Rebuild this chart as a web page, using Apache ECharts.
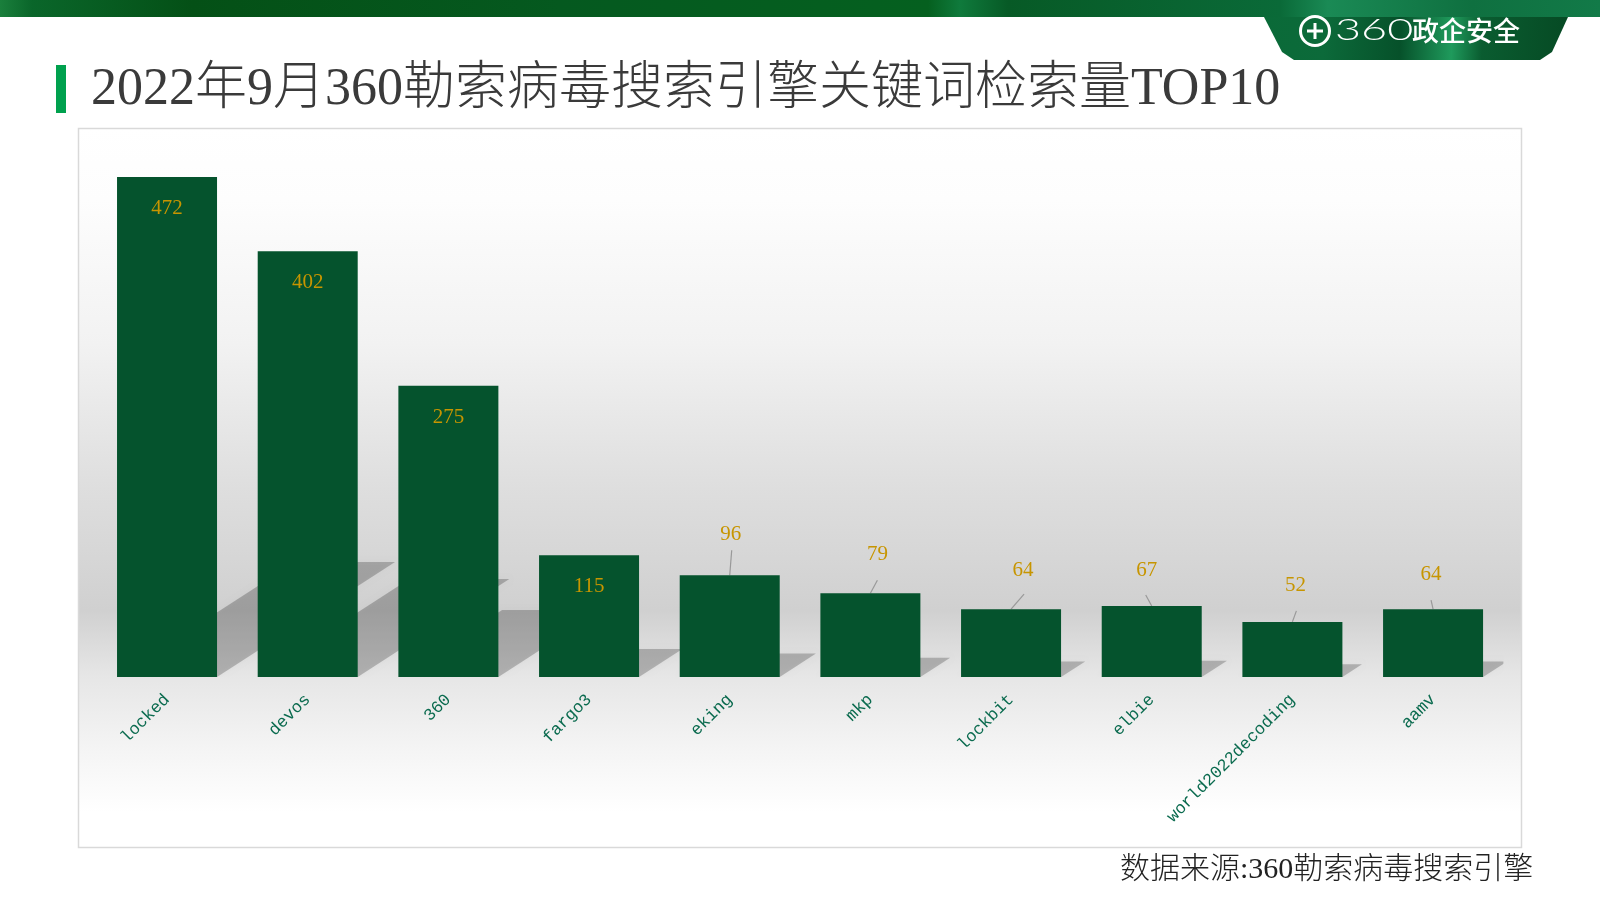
<!DOCTYPE html>
<html><head><meta charset="utf-8">
<style>html,body{margin:0;padding:0;background:#fff}#c{width:1600px;height:900px}</style>
<script src="https://cdn.jsdelivr.net/npm/echarts@6/dist/echarts.min.js"></script>
</head><body><div id="c"></div>
<script>
const categories = ['locked','devos','360','fargo3','eking','mkp','lockbit','elbie','world2022decoding','aamv'];
const values = [472,402,275,115,96,79,64,67,52,64];
const titleText = '2022年9月360勒索病毒搜索引擎关键词检索量TOP10';
const sourceText = '数据来源:360勒索病毒搜索引擎';
const labelOffsets = [[0,0],[0,0],[0,0],[0,0],[1,-25],[7,-23],[12,-23],[-5,-20],[3,-21],[-2,-19]];
const leaderEnds = [null,null,null,null,[2,-25],[7,-13],[13,-15],[-6,-11],[4,-11],[-2,-9]];
const SERIF = '"Liberation Serif","Noto Sans CJK SC",serif';
const chart = echarts.init(document.getElementById('c'));
const grad = (x,y,x2,y2,s)=>({type:'linear',x,y,x2,y2,colorStops:s.map(a=>({offset:a[0],color:a[1]}))});
chart.setOption({
  animation:false,
  backgroundColor:'#fff',
  grid:{left:96.7,top:177,width:1406.7,height:500,containLabel:false},
  xAxis:{type:'category',data:categories,axisLine:{show:false},axisTick:{show:false},
    axisLabel:{interval:0,rotate:45,margin:20,color:'#0b6b4f',fontSize:17,fontFamily:'"Liberation Mono",monospace'}},
  yAxis:{type:'value',min:0,max:472,show:false,splitLine:{show:false}},
  graphic:[
    {type:'rect',z:-10,shape:{x:0,y:0,width:1600,height:17},style:{fill:grad(0,0,1,0,[[0,'#1a7f3c'],[.02,'#0a662a'],[.12,'#045016'],[.35,'#05591f'],[.58,'#05601f'],[.6,'#0f7a3c'],[.63,'#075a26'],[.8,'#0a6a38'],[.83,'#1a8a55'],[.92,'#0f7040'],[1,'#127a48']])}},
    {type:'polygon',z:-9,shape:{points:[[1264,17],[1568,17],[1552,52],[1540,60],[1294,60],[1282,52]]},style:{fill:grad(0,0,1,.3,[[0,'#0a6a38'],[.2,'#0c6a3a'],[.45,'#06512a'],[.62,'#1f9a5c'],[.72,'#0a5c30'],[1,'#064a24']])}},
    {type:'circle',z:-8,shape:{cx:1315,cy:31,r:14.5},style:{fill:'none',stroke:'#fff',lineWidth:3}},
    {type:'rect',z:-8,shape:{x:1307,y:29.5,width:16,height:3},style:{fill:'#fff'}},
    {type:'rect',z:-8,shape:{x:1313.5,y:23,width:3,height:16},style:{fill:'#fff'}},
    {type:'text',z:-8,x:1335,y:31,scaleX:1.55,style:{text:'360',fill:'#fff',font:'300 29px Lato',verticalAlign:'middle',align:'left'}},
    {type:'text',z:-8,x:1412,y:31,style:{text:'政企安全',fill:'#fff',font:'500 27px "Noto Sans CJK SC"',verticalAlign:'middle',align:'left'}},
    {type:'rect',z:-8,shape:{x:56,y:65,width:10,height:48},style:{fill:'#00a14e'}},
    {type:'text',z:-8,x:91,y:90,style:{text:titleText,fill:'#3a3a3a',font:'300 52px '+SERIF,verticalAlign:'middle',align:'left'}},
    {type:'rect',z:-10,shape:{x:78.5,y:128.5,width:1443,height:719},style:{stroke:'#d9d9d9',lineWidth:1.5,fill:grad(0,0,0,1,[[0,'#ffffff'],[.1,'#fdfdfd'],[.3,'#f2f2f2'],[.5,'#dedede'],[.67,'#d0d0d0'],[.76,'#e6e6e6'],[.86,'#f4f4f4'],[.95,'#ffffff'],[1,'#ffffff']])}},
    {type:'text',z:-8,x:1120,y:870,style:{text:sourceText,fill:'#222',font:'300 30px '+SERIF,verticalAlign:'middle',align:'left'}}
  ],
  series:[
    {type:'custom',z:1,clip:true,data:values.map((v,i)=>[i,v]),encode:{x:0,y:1},
      renderItem(params,api){
        const base=api.coord([api.value(0),0]), top=api.coord([api.value(0),api.value(1)]);
        const hw=50, h=(base[1]-top[1])*0.23, sh=h*1.548, g=params.coordSys;
        const pts=[[base[0]-hw,base[1]],[base[0]+hw,base[1]],[base[0]+hw+sh,base[1]-h],[base[0]-hw+sh,base[1]-h]];
        return {type:'polygon',shape:{points:pts},
          clipPath:{type:'rect',shape:{x:g.x,y:g.y,width:g.width,height:g.height}},
          style:{fill:'rgba(0,0,0,0.22)',shadowBlur:5,shadowColor:'rgba(0,0,0,0.12)'}};
      }},
    {type:'bar',z:3,data:values,barWidth:100,itemStyle:{color:'#05532d'},
      label:{show:true,position:'top',color:'#c79500',fontSize:21,fontFamily:SERIF,
        formatter:p=>p.value},
      labelLayout(p){
        const o=labelOffsets[p.dataIndex];
        if(p.dataIndex<4) return {dy:p.labelRect.height+26+ (0)};
        return {dx:o[0],dy:o[1]};
      }},
    {type:'custom',z:2,data:values.map((v,i)=>[i,v]),encode:{x:0,y:1},
      renderItem(params,api){
        const e=leaderEnds[params.dataIndex]; if(!e) return null;
        const t=api.coord([api.value(0),api.value(1)]);
        return {type:'line',shape:{x1:t[0],y1:t[1],x2:t[0]+e[0],y2:t[1]+e[1]},style:{stroke:'#999',lineWidth:1.2}};
      }}
  ]
});
</script></body></html>
